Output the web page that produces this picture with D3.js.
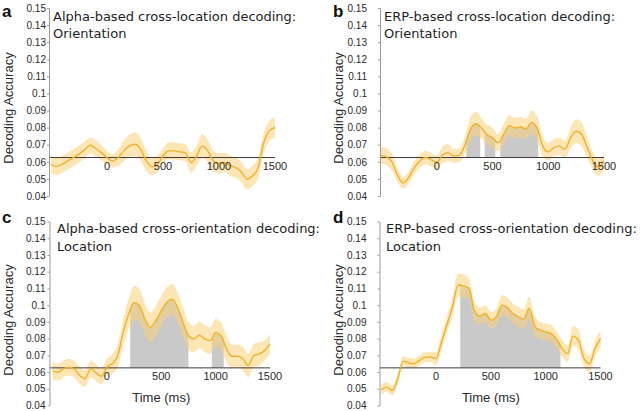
<!DOCTYPE html>
<html>
<head>
<meta charset="utf-8">
<script src="https://cdn.jsdelivr.net/npm/d3@7"></script>
<style>
    body { margin: 0; background: #fff; }
</style>
</head>
<body>
<svg id="chart" width="640" height="411"></svg>
<script>
// time samples (ms)
const times = [-500, -450, -400, -350, -300, -250, -200, -150, -100, -50, 0, 50, 100, 150, 200, 250, 300, 350, 400, 450, 500,
    550, 600, 650, 700, 750, 800, 850, 900, 950, 1000, 1050, 1100, 1150, 1200, 1250, 1300, 1350, 1400, 1450, 1500]

// a: alpha-based cross-location (orientation)
const alphaLocMean = [0.0586, 0.0572, 0.0586, 0.0605, 0.0625, 0.0645, 0.0670, 0.0697, 0.0678, 0.0654, 0.0625, 0.0605, 0.0625, 0.0664,
    0.0693, 0.0703, 0.0674, 0.0605, 0.0572, 0.0586, 0.0635, 0.0664, 0.0664, 0.0658, 0.0654, 0.0596, 0.0635, 0.0693, 0.0664, 0.0605,
    0.0590, 0.0596, 0.0576, 0.0566, 0.0541, 0.0498, 0.0518, 0.0566, 0.0713, 0.0781, 0.0801]
const alphaLocHalf = [0.005, 0.005, 0.005, 0.005, 0.005, 0.005, 0.005, 0.0045, 0.005, 0.0045, 0.004, 0.004, 0.005, 0.006, 0.0065,
    0.007, 0.0065, 0.006, 0.005, 0.005, 0.0045, 0.005, 0.005, 0.005, 0.005, 0.006, 0.006, 0.007, 0.0065, 0.006, 0.006, 0.0055,
    0.006, 0.006, 0.006, 0.006, 0.006, 0.006, 0.006, 0.006, 0.006]
const alphaLocSig = []

// b: ERP-based cross-location (orientation)
const erpLocMean = [0.0638, 0.0629, 0.0596, 0.0519, 0.0477, 0.0510, 0.0567, 0.0606, 0.0625, 0.0612, 0.0596, 0.0638, 0.0654, 0.0635,
    0.0638, 0.0692, 0.0788, 0.0823, 0.0798, 0.0760, 0.0740, 0.0712, 0.0760, 0.0812, 0.0798, 0.0804, 0.0792, 0.0831, 0.0798, 0.0692,
    0.0658, 0.0683, 0.0692, 0.0673, 0.0740, 0.0779, 0.0760, 0.0683, 0.0606, 0.0567, 0.0606]
const erpLocHalf = [0.005, 0.005, 0.005, 0.004, 0.0035, 0.0035, 0.004, 0.004, 0.004, 0.004, 0.004, 0.005, 0.005, 0.004, 0.004,
    0.005, 0.007, 0.007, 0.006, 0.006, 0.006, 0.005, 0.006, 0.006, 0.006, 0.006, 0.006, 0.007, 0.007, 0.006, 0.005, 0.005,
    0.005, 0.005, 0.006, 0.007, 0.007, 0.006, 0.005, 0.005, 0.005]
const erpLocSig = [[265, 390], [430, 525], [570, 910]]

// c: alpha-based cross-orientation (location)
const alphaOriMean = [0.0609, 0.0599, 0.0619, 0.0629, 0.0619, 0.0579, 0.0560, 0.0619, 0.0595, 0.0575, 0.0629, 0.0649, 0.0698, 0.0837,
    0.0946, 0.1016, 0.0996, 0.0917, 0.0867, 0.0907, 0.0966, 0.1016, 0.1036, 0.0986, 0.0897, 0.0817, 0.0798, 0.0821, 0.0798, 0.0788,
    0.0837, 0.0817, 0.0738, 0.0694, 0.0694, 0.0679, 0.0639, 0.0698, 0.0708, 0.0728, 0.0768]
const alphaOriHalf = [0.005, 0.005, 0.005, 0.005, 0.005, 0.005, 0.005, 0.005, 0.005, 0.005, 0.005, 0.006, 0.007, 0.008, 0.009,
    0.01, 0.01, 0.009, 0.009, 0.009, 0.009, 0.009, 0.009, 0.009, 0.009, 0.008, 0.008, 0.008, 0.008, 0.008, 0.008, 0.008,
    0.008, 0.007, 0.007, 0.007, 0.007, 0.007, 0.007, 0.006, 0.006]
const alphaOriSig = [[215, 750], [965, 1075]]

// d: ERP-based cross-orientation (location)
const erpOriMean = [0.0495, 0.0510, 0.0490, 0.0560, 0.0665, 0.0655, 0.0650, 0.0670, 0.0688, 0.0690, 0.0680, 0.0780, 0.0885, 0.0990,
    0.1120, 0.1115, 0.1100, 0.0964, 0.0935, 0.0950, 0.0910, 0.0930, 0.1000, 0.0985, 0.0950, 0.0930, 0.0915, 0.0980, 0.0875, 0.0850,
    0.0840, 0.0830, 0.0795, 0.0740, 0.0710, 0.0815, 0.0790, 0.0680, 0.0650, 0.0740, 0.0800]
const erpOriHalf = [0.003, 0.003, 0.003, 0.003, 0.003, 0.003, 0.003, 0.003, 0.003, 0.003, 0.004, 0.005, 0.005, 0.006, 0.007,
    0.007, 0.006, 0.006, 0.005, 0.005, 0.005, 0.005, 0.006, 0.006, 0.006, 0.006, 0.006, 0.007, 0.006, 0.005, 0.005, 0.005,
    0.005, 0.005, 0.005, 0.006, 0.006, 0.005, 0.005, 0.005, 0.005]
const erpOriSig = [[220, 1135]]

const chance = 0.0625
const yTicks = [0.04, 0.05, 0.06, 0.07, 0.08, 0.09, 0.1, 0.11, 0.12, 0.13, 0.14, 0.15]
const xTicks = [0, 500, 1000, 1500]

const color = {
    line: '#efb12a',
    band: '#fbd27a',
    sig: '#c9c9c9',
    chance: '#3a3a3a',
    axis: '#9a9a9a',
    text: '#2a2a2a'
}

// 每个面板的位置
const panels = [
    { id: 'a', title: ['Alpha-based cross-location decoding:', 'Orientation'], mean: alphaLocMean, half: alphaLocHalf, sig: alphaLocSig,
        axisX: 49, x0: 51, x1: 275, yTop: 8, yBot: 196, pad: 1, letterX: 2, letterY: 17, ylabX: 13, ylabY: 108, titleX: 53, titleY: 20.5, timeLabel: false },
    { id: 'b', title: ['ERP-based cross-location decoding:', 'Orientation'], mean: erpLocMean, half: erpLocHalf, sig: erpLocSig,
        axisX: 380, x0: 381, x1: 604, yTop: 8, yBot: 196, pad: 11, letterX: 333, letterY: 17, ylabX: 342.5, ylabY: 108, titleX: 384, titleY: 20.5, timeLabel: false },
    { id: 'c', title: ['Alpha-based cross-orientation decoding:', 'Location'], mean: alphaOriMean, half: alphaOriHalf, sig: alphaOriSig,
        axisX: 49.5, x0: 52.5, x1: 270, yTop: 221.5, yBot: 405.5, pad: 2, letterX: 2, letterY: 222.5, ylabX: 13, ylabY: 320, titleX: 57, titleY: 233, timeLabel: true },
    { id: 'd', title: ['ERP-based cross-orientation decoding:', 'Location'], mean: erpOriMean, half: erpOriHalf, sig: erpOriSig,
        axisX: 379.5, x0: 381.3, x1: 600.5, yTop: 221.5, yBot: 405.5, pad: 11, letterX: 333, letterY: 222.5, ylabX: 342.5, ylabY: 320, titleX: 386, titleY: 233, timeLabel: true }
]

const svg = d3.select('#chart')

panels.forEach(drawPanel)

function drawPanel(p) {
    const g = svg.append('g').attr('class', 'panel-' + p.id)
    const x = d3.scaleLinear().domain([-500, 1500]).range([p.x0, p.x1])
    const y = d3.scaleLinear().domain([0.04, 0.15]).range([p.yBot, p.yTop])

    const rows = times.map((t, i) => ({ t: t, m: p.mean[i], h: p.half[i] }))
    const curve = d3.curveMonotoneX

    // 显著区间 (灰色)
    if (p.sig.length) {
        const clipId = 'clip-' + p.id
        g.append('clipPath')
            .attr('id', clipId)
            .selectAll('rect')
            .data(p.sig)
            .join('rect')
            .attr('x', (d) => x(d[0]))
            .attr('width', (d) => x(d[1]) - x(d[0]))
            .attr('y', p.yTop)
            .attr('height', p.yBot - p.yTop)

        g.append('path')
            .datum(rows)
            .attr('clip-path', `url(#${clipId})`)
            .attr('fill', color.sig)
            .attr('d', d3.area().curve(curve).x((d) => x(d.t)).y0(y(chance)).y1((d) => y(d.m)))
    }

    // 置信区间
    g.append('path')
        .datum(rows)
        .attr('fill', color.band)
        .attr('fill-opacity', 0.55)
        .attr('d', d3.area().curve(curve).x((d) => x(d.t)).y0((d) => y(d.m - d.h)).y1((d) => y(d.m + d.h)))

    // chance line
    g.append('line')
        .attr('x1', p.axisX)
        .attr('x2', x(1500))
        .attr('y1', y(chance))
        .attr('y2', y(chance))
        .attr('stroke', color.chance)
        .attr('stroke-width', 1)

    // 平均线
    g.append('path')
        .datum(rows)
        .attr('fill', 'none')
        .attr('stroke', color.line)
        .attr('stroke-width', 1.4)
        .attr('d', d3.line().curve(curve).x((d) => x(d.t)).y((d) => y(d.m)))

    // y axis
    const yAxis = g.append('g')
        .attr('transform', `translate(${p.axisX},0)`)
        .call(d3.axisLeft(y).tickValues(yTicks).tickFormat(d3.format('~g')).tickSize(2).tickSizeOuter(0).tickPadding(p.pad))
    yAxis.select('.domain').attr('stroke', color.axis)
    yAxis.selectAll('.tick line').attr('stroke', color.axis)
    yAxis.selectAll('.tick text')
        .attr('fill', color.text)
        .attr('font-family', 'Liberation Sans, Arial, sans-serif')
        .attr('font-size', '10px')

    // x tick labels sit on the chance line
    g.selectAll('.xtick')
        .data(xTicks)
        .join('text')
        .attr('class', 'xtick')
        .attr('x', (d) => x(d))
        .attr('y', y(chance) + 12.5)
        .attr('text-anchor', 'middle')
        .attr('font-family', 'Liberation Sans, Arial, sans-serif')
        .attr('font-size', '11px')
        .attr('fill', color.text)
        .text((d) => d)

    // y label
    g.append('text')
        .attr('transform', `translate(${p.ylabX},${p.ylabY}) rotate(-90)`)
        .attr('text-anchor', 'middle')
        .attr('font-family', 'Liberation Sans, Arial, sans-serif')
        .attr('font-size', '13px')
        .attr('fill', color.text)
        .text('Decoding Accuracy')

    if (p.timeLabel) {
        g.append('text')
            .attr('x', x(500))
            .attr('y', 402)
            .attr('text-anchor', 'middle')
            .attr('font-family', 'Liberation Sans, Arial, sans-serif')
            .attr('font-size', '13px')
            .attr('fill', color.text)
            .text('Time (ms)')
    }

    // 标题
    g.append('text')
        .attr('font-family', 'DejaVu Sans, sans-serif')
        .attr('font-size', '13px')
        .attr('fill', '#1e1e1e')
        .selectAll('tspan')
        .data(p.title)
        .join('tspan')
        .attr('x', p.titleX)
        .attr('y', (d, i) => p.titleY + i * 17.7)
        .text((d) => d)

    // panel letter
    g.append('text')
        .attr('x', p.letterX)
        .attr('y', p.letterY)
        .attr('font-family', 'Liberation Sans, Arial, sans-serif')
        .attr('font-weight', 'bold')
        .attr('font-size', '17px')
        .attr('fill', '#111')
        .text(p.id)
}
</script>
</body>
</html>
